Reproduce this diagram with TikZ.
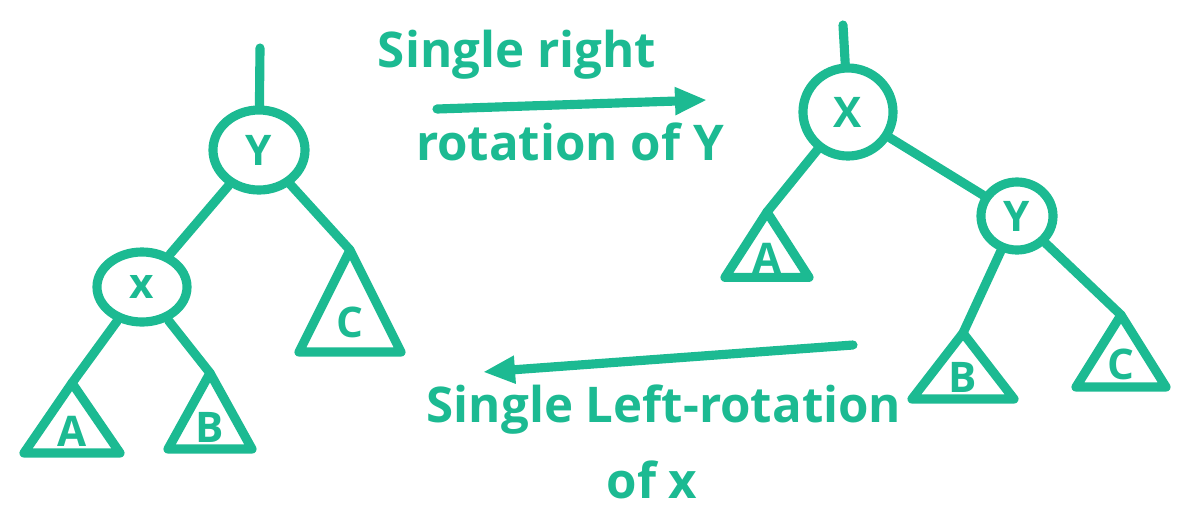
\documentclass[tikz,border=0pt]{standalone}
\usepackage{fontspec}
\setmainfont{Open Sans}
\usepackage{xcolor}
\usetikzlibrary{arrows.meta,shapes.geometric}
\definecolor{marker}{RGB}{28,186,146}

\begin{document}
\begin{tikzpicture}[x=0.025cm,y=-0.025cm,
  pen/.style={draw=marker, line width=6.5pt, line cap=round, line join=round},
  keynode/.style={pen, ellipse, inner sep=0pt, text=marker,
    font=\fontsize{30}{32}\selectfont\bfseries},
  subtree/.style={pen, isosceles triangle, isosceles triangle stretches,
    shape border rotate=90, inner sep=0pt, outer sep=0pt, anchor=apex,
    text=marker, font=\fontsize{30}{32}\selectfont\bfseries},
  link/.style={pen},
  turn/.style={pen, -{Triangle[length=0.8cm,width=0.65cm]}},
  remark/.style={text=marker, font=\fontsize{35}{38}\selectfont\bfseries}]
  \useasboundingbox (0,0) rectangle (1184,529);

  % left tree
  \node[keynode, minimum width=2.3cm, minimum height=2.0cm] (ly) at (259,150) {Y};
  \node[keynode, minimum width=2.25cm, minimum height=1.75cm] (lx) at (142,287) {x};
  \node[subtree, minimum width=2.4cm, minimum height=1.75cm] (la) at (72,383) {A};
  \node[subtree, minimum width=2.1cm, minimum height=1.9cm] (lb) at (210,373) {B};
  \node[subtree, minimum width=2.55cm, minimum height=2.55cm] (lc) at (350,250) {C};
  \coordinate (ltop) at (260,48);

  \draw[link] (ly) -- (ltop);
  \draw[link] (ly) -- (lx);
  \draw[link] (ly) -- (lc.apex);
  \draw[link] (lx) -- (la.apex);
  \draw[link] (lx) -- (lb.apex);

  % right tree
  \node[keynode, minimum width=2.25cm, minimum height=2.2cm] (rx) at (848,112) {X};
  \node[keynode, minimum width=1.8cm, minimum height=1.7cm] (ry) at (1017,216) {Y};
  \node[subtree, minimum width=2.1cm, minimum height=1.6cm] (ra) at (767,212) {A};
  \node[subtree, minimum width=2.55cm, minimum height=1.65cm] (rb) at (963,333) {B};
  \node[subtree, minimum width=2.25cm, minimum height=1.8cm] (rc) at (1121,315) {C};
  \coordinate (rtop) at (843,25);

  \draw[link] (rx) -- (rtop);
  \draw[link] (rx) -- (ra.apex);
  \draw[link] (rx) -- (ry);
  \draw[link] (ry) -- (rb.apex);
  \draw[link] (ry) -- (rc.apex);

  % rotation arrows
  \coordinate (rs) at (437,109);
  \coordinate (re) at (707,100);
  \draw[turn] (rs) -- (re);
  \coordinate (ls) at (853,345);
  \coordinate (le) at (483,372);
  \draw[turn] (ls) -- (le);

  % captions
  \node[remark] (capr1) at (517,55) {Single right};
  \node[remark] (capr2) at (570,142) {rotation of Y};
  \node[remark] (capl1) at (664,410) {Single Left-rotation};
  \node[remark] (capl2) at (652,480) {of x};
\end{tikzpicture}
\end{document}
